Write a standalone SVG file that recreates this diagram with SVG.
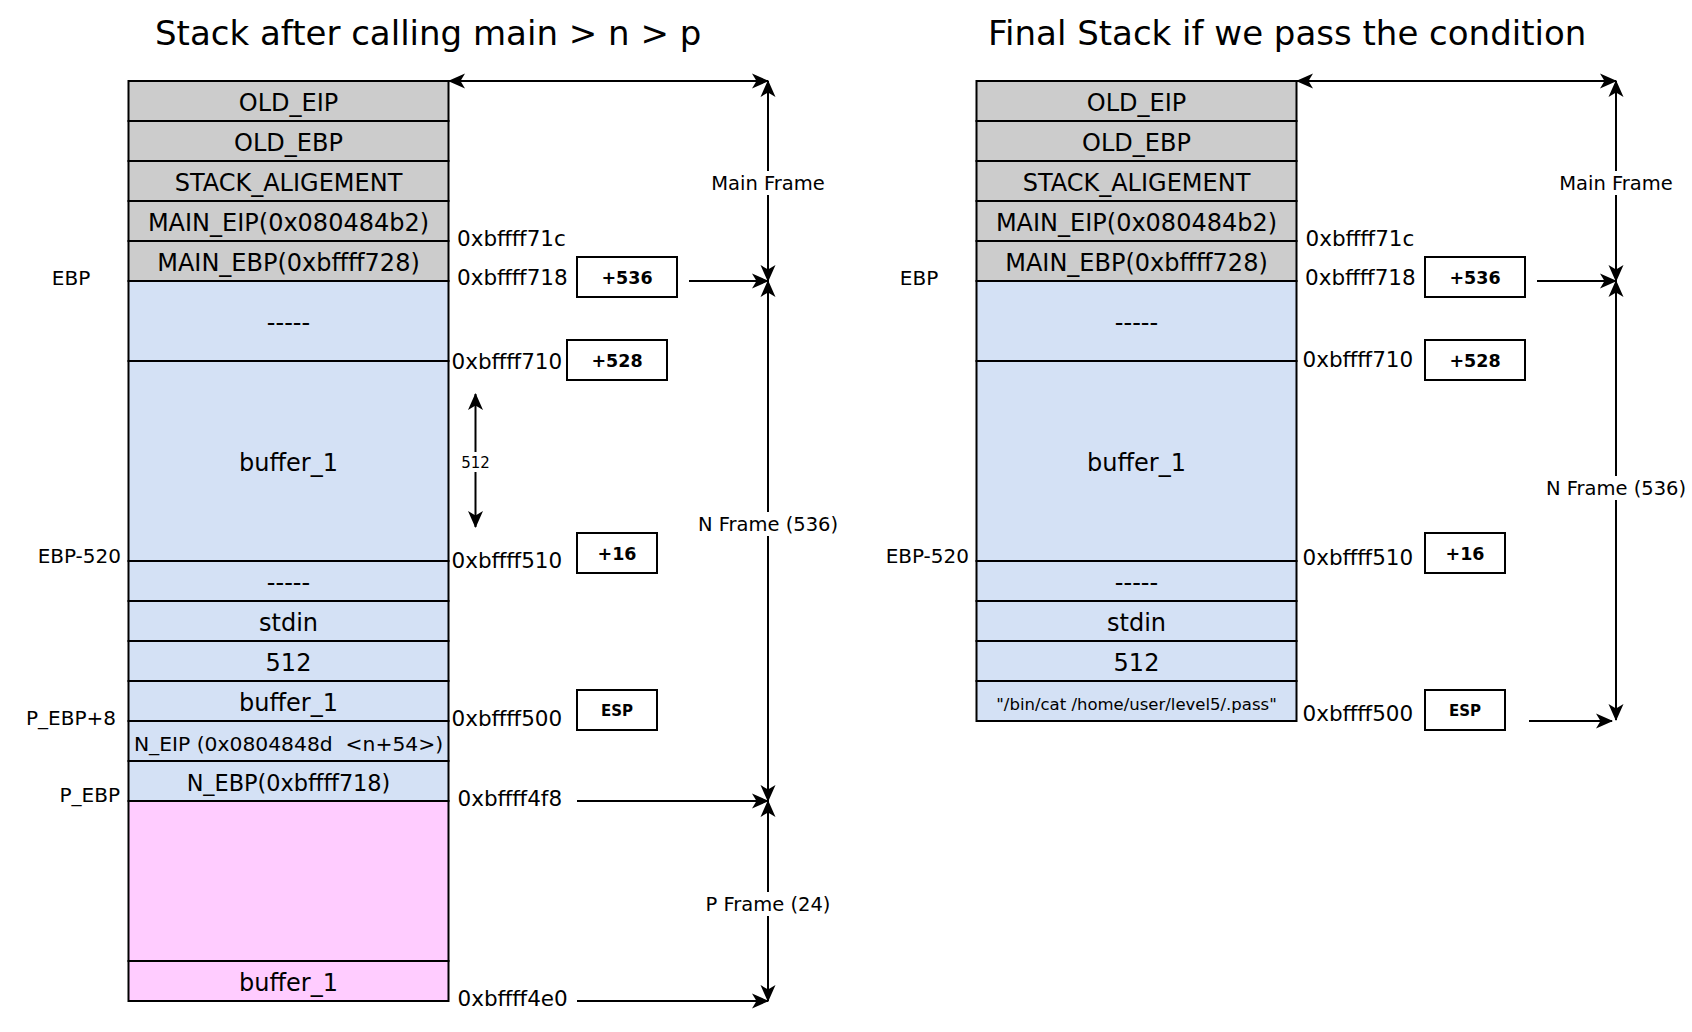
<svg xmlns="http://www.w3.org/2000/svg" width="1692" height="1032" viewBox="0 0 1692 1032">
<style>
text { font-family: "DejaVu Sans", Verdana, sans-serif; fill: #000; }
.title { font-size: 34px; }
.cell { stroke: #000; stroke-width: 2; }
.gray { fill: #CCCCCC; }
.blue { fill: #D4E1F5; }
.pink { fill: #FFCCFF; }
.rt { font-size: 24px; text-anchor: middle; }
.addr { font-size: 21.5px; }
.side { font-size: 20px; }
.box { fill: #fff; stroke: #000; stroke-width: 2; }
.bt { font-size: 17.5px; font-weight: bold; text-anchor: middle; }
.conn { stroke: #000; stroke-width: 2; fill: none; }
.lbl { font-size: 19.5px; text-anchor: middle; }
.lblbg { fill: #fff; }
</style>
<defs>
<marker id="ah" markerUnits="userSpaceOnUse" markerWidth="17" markerHeight="15" refX="16" refY="7.5" orient="auto-start-reverse" overflow="visible">
<path d="M0,0 L17,7.5 L0,15 L4.5,7.5 z" fill="#000"/>
</marker>
</defs>
<rect width="1692" height="1032" fill="#fff"/>

<text class="title" x="155" y="45">Stack after calling main &gt; n &gt; p</text>
<text class="title" x="988" y="45">Final Stack if we pass the condition</text>

<g id="left-stack">
<g id="l-old-eip"><rect class="cell gray" x="128.5" y="81" width="320" height="40"/><text class="rt" x="288.5" y="111">OLD_EIP</text></g>
<g id="l-old-ebp"><rect class="cell gray" x="128.5" y="121" width="320" height="40"/><text class="rt" x="288.5" y="151">OLD_EBP</text></g>
<g id="l-align"><rect class="cell gray" x="128.5" y="161" width="320" height="40"/><text class="rt" x="288.5" y="191">STACK_ALIGEMENT</text></g>
<g id="l-main-eip"><rect class="cell gray" x="128.5" y="201" width="320" height="40"/><text class="rt" x="288.5" y="231">MAIN_EIP(0x080484b2)</text></g>
<g id="l-main-ebp"><rect class="cell gray" x="128.5" y="241" width="320" height="40"/><text class="rt" x="288.5" y="271">MAIN_EBP(0xbffff728)</text></g>
<g id="l-pad1"><rect class="cell blue" x="128.5" y="281" width="320" height="80"/><text class="rt" x="288.5" y="331">-----</text></g>
<g id="l-buffer"><rect class="cell blue" x="128.5" y="361" width="320" height="200"/><text class="rt" x="288.5" y="471">buffer_1</text></g>
<g id="l-pad2"><rect class="cell blue" x="128.5" y="561" width="320" height="40"/><text class="rt" x="288.5" y="591">-----</text></g>
<g id="l-stdin"><rect class="cell blue" x="128.5" y="601" width="320" height="40"/><text class="rt" x="288.5" y="631">stdin</text></g>
<g id="l-512"><rect class="cell blue" x="128.5" y="641" width="320" height="40"/><text class="rt" x="288.5" y="671">512</text></g>
<g id="l-buf-arg"><rect class="cell blue" x="128.5" y="681" width="320" height="40"/><text class="rt" x="288.5" y="711">buffer_1</text></g>
<g id="l-n-eip"><rect class="cell blue" x="128.5" y="721" width="320" height="40"/><text class="rt" x="288.5" y="751" style="font-size:20.3px" xml:space="preserve">N_EIP (0x0804848d  &lt;n+54&gt;)</text></g>
<g id="l-n-ebp"><rect class="cell blue" x="128.5" y="761" width="320" height="40"/><text class="rt" x="288.5" y="791" style="font-size:22.4px">N_EBP(0xbffff718)</text></g>
<g id="l-p-frame"><rect class="cell pink" x="128.5" y="801" width="320" height="160"/></g>
<g id="l-p-buf"><rect class="cell pink" x="128.5" y="961" width="320" height="40"/><text class="rt" x="288.5" y="991">buffer_1</text></g>
</g>

<g id="left-labels">
<text class="side" x="71" y="285" text-anchor="middle">EBP</text>
<text class="side" x="121" y="563" text-anchor="end">EBP-520</text>
<text class="side" x="116" y="725" text-anchor="end">P_EBP+8</text>
<text class="side" x="120" y="802" text-anchor="end">P_EBP</text>
<text class="addr" x="457" y="246">0xbffff71c</text>
<text class="addr" x="457" y="285">0xbffff718</text>
<text class="addr" x="451.5" y="369">0xbffff710</text>
<text class="addr" x="451.5" y="568">0xbffff510</text>
<text class="addr" x="451.5" y="726">0xbffff500</text>
<text class="addr" x="457.5" y="806">0xbffff4f8</text>
<text class="addr" x="457.5" y="1006">0xbffff4e0</text>
</g>

<g id="l-box-536"><rect class="box" x="577" y="257" width="100" height="40"/><text class="bt" x="627" y="283.5">+536</text></g>
<g id="l-box-528"><rect class="box" x="567" y="340" width="100" height="40"/><text class="bt" x="617" y="366.5">+528</text></g>
<g id="l-box-16"><rect class="box" x="577" y="533" width="80" height="40"/><text class="bt" x="617" y="559.5">+16</text></g>
<g id="l-box-esp"><rect class="box" x="577" y="690" width="80" height="40"/><text class="bt" x="617" y="715.5" style="font-size:15px">ESP</text></g>

<g id="right-stack">
<g id="r-old-eip"><rect class="cell gray" x="976.5" y="81" width="320" height="40"/><text class="rt" x="1136.5" y="111">OLD_EIP</text></g>
<g id="r-old-ebp"><rect class="cell gray" x="976.5" y="121" width="320" height="40"/><text class="rt" x="1136.5" y="151">OLD_EBP</text></g>
<g id="r-align"><rect class="cell gray" x="976.5" y="161" width="320" height="40"/><text class="rt" x="1136.5" y="191">STACK_ALIGEMENT</text></g>
<g id="r-main-eip"><rect class="cell gray" x="976.5" y="201" width="320" height="40"/><text class="rt" x="1136.5" y="231">MAIN_EIP(0x080484b2)</text></g>
<g id="r-main-ebp"><rect class="cell gray" x="976.5" y="241" width="320" height="40"/><text class="rt" x="1136.5" y="271">MAIN_EBP(0xbffff728)</text></g>
<g id="r-pad1"><rect class="cell blue" x="976.5" y="281" width="320" height="80"/><text class="rt" x="1136.5" y="331">-----</text></g>
<g id="r-buffer"><rect class="cell blue" x="976.5" y="361" width="320" height="200"/><text class="rt" x="1136.5" y="471">buffer_1</text></g>
<g id="r-pad2"><rect class="cell blue" x="976.5" y="561" width="320" height="40"/><text class="rt" x="1136.5" y="591">-----</text></g>
<g id="r-stdin"><rect class="cell blue" x="976.5" y="601" width="320" height="40"/><text class="rt" x="1136.5" y="631">stdin</text></g>
<g id="r-512"><rect class="cell blue" x="976.5" y="641" width="320" height="40"/><text class="rt" x="1136.5" y="671">512</text></g>
<g id="r-cmd"><rect class="cell blue" x="976.5" y="681" width="320" height="40"/><text class="rt" x="1136.5" y="710" style="font-size:16.5px">"/bin/cat /home/user/level5/.pass"</text></g>
</g>

<g id="right-labels">
<text class="side" x="919" y="285" text-anchor="middle">EBP</text>
<text class="side" x="969" y="563" text-anchor="end">EBP-520</text>
<text class="addr" x="1305.5" y="246">0xbffff71c</text>
<text class="addr" x="1305" y="285">0xbffff718</text>
<text class="addr" x="1302.5" y="367">0xbffff710</text>
<text class="addr" x="1302.5" y="565">0xbffff510</text>
<text class="addr" x="1302.5" y="721">0xbffff500</text>
</g>

<g id="r-box-536"><rect class="box" x="1425" y="257" width="100" height="40"/><text class="bt" x="1475" y="283.5">+536</text></g>
<g id="r-box-528"><rect class="box" x="1425" y="340" width="100" height="40"/><text class="bt" x="1475" y="366.5">+528</text></g>
<g id="r-box-16"><rect class="box" x="1425" y="533" width="80" height="40"/><text class="bt" x="1465" y="559.5">+16</text></g>
<g id="r-box-esp"><rect class="box" x="1425" y="690" width="80" height="40"/><text class="bt" x="1465" y="715.5" style="font-size:15px">ESP</text></g>

<g id="connectors">
<line class="conn" x1="449" y1="81" x2="768" y2="81" marker-start="url(#ah)" marker-end="url(#ah)"/>
<line class="conn" x1="768" y1="81" x2="768" y2="281" marker-start="url(#ah)" marker-end="url(#ah)"/>
<line class="conn" x1="689" y1="281" x2="768" y2="281" marker-end="url(#ah)"/>
<line class="conn" x1="768" y1="281" x2="768" y2="801" marker-start="url(#ah)" marker-end="url(#ah)"/>
<line class="conn" x1="577" y1="801" x2="768" y2="801" marker-end="url(#ah)"/>
<line class="conn" x1="768" y1="801" x2="768" y2="1001" marker-start="url(#ah)" marker-end="url(#ah)"/>
<line class="conn" x1="577" y1="1001" x2="768" y2="1001" marker-end="url(#ah)"/>
<line class="conn" x1="475.5" y1="394" x2="475.5" y2="527" marker-start="url(#ah)" marker-end="url(#ah)"/>

<line class="conn" x1="1297" y1="81" x2="1616" y2="81" marker-start="url(#ah)" marker-end="url(#ah)"/>
<line class="conn" x1="1616" y1="81" x2="1616" y2="281" marker-start="url(#ah)" marker-end="url(#ah)"/>
<line class="conn" x1="1537" y1="281" x2="1616" y2="281" marker-end="url(#ah)"/>
<line class="conn" x1="1616" y1="281" x2="1616" y2="720" marker-start="url(#ah)" marker-end="url(#ah)"/>
<line class="conn" x1="1529" y1="721" x2="1612" y2="721" marker-end="url(#ah)"/>

<rect class="lblbg" x="709" y="171" width="118" height="24"/>
<text class="lbl" x="768" y="190">Main Frame</text>
<rect class="lblbg" x="697" y="512" width="142" height="24"/>
<text class="lbl" x="768" y="531">N Frame (536)</text>
<rect class="lblbg" x="705" y="892" width="126" height="24"/>
<text class="lbl" x="768" y="911">P Frame (24)</text>
<rect class="lblbg" x="460" y="452" width="31" height="20"/>
<text x="475.5" y="467.5" style="font-size:15px" text-anchor="middle">512</text>

<rect class="lblbg" x="1557" y="171" width="118" height="24"/>
<text class="lbl" x="1616" y="190">Main Frame</text>
<rect class="lblbg" x="1545" y="476" width="142" height="24"/>
<text class="lbl" x="1616" y="495">N Frame (536)</text>
</g>
</svg>
